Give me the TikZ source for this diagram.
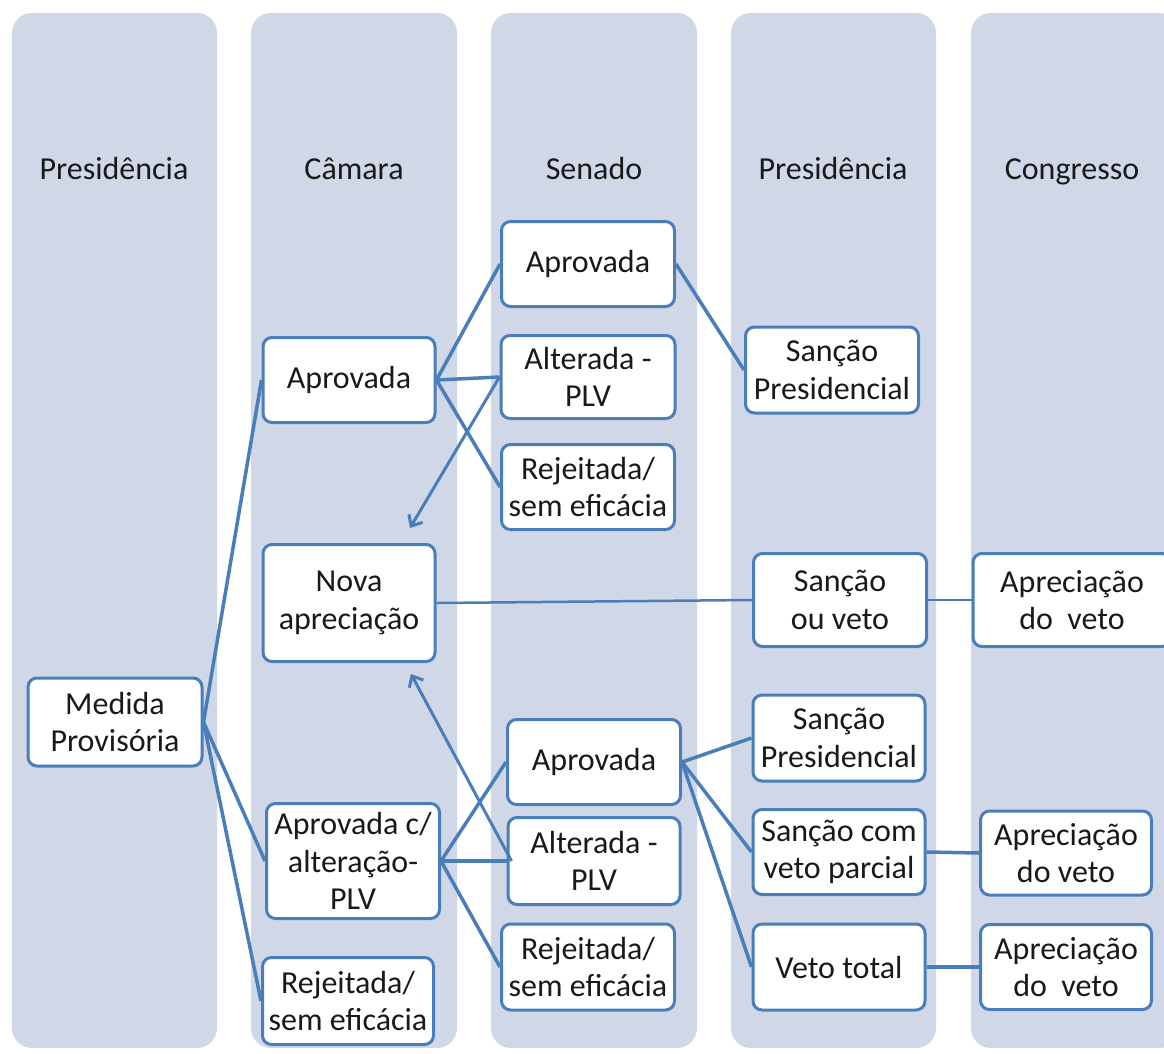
\documentclass[tikz,border=0pt]{standalone}
\usepackage{fontspec}
\setmainfont{Carlito}
\usetikzlibrary{arrows.meta}
\definecolor{lanefill}{HTML}{D0D8E8}
\definecolor{boxblue}{HTML}{4A7EBB}
\tikzset{
  lanebox/.style={fill=lanefill, rounded corners=20pt},
  lanetitle/.style={font=\fontsize{32}{38}\selectfont, text=black!90, anchor=base},
  box/.style={draw=boxblue, line width=3pt, fill=white, rounded corners=9pt, align=center, inner sep=0pt,
    font=\fontsize{32}{37.5}\selectfont, text=black!90},
  conn/.style={draw=boxblue, line width=3.5pt},
  thinconn/.style={draw=boxblue, line width=2.5pt},
  arr/.style={draw=boxblue, line width=3pt, -{Straight Barb[length=9pt,width=16pt,line width=3pt]}}
}
\begin{document}
\begin{tikzpicture}[x=1pt,y=-1pt]
\clip (0,0) rectangle (1164,1054);
\fill[white] (0,0) rectangle (1164,1054);
% lanes
\fill[lanebox] (12,13) rectangle (217,1048);
\fill[lanebox] (251,13) rectangle (457,1048);
\fill[lanebox] (491,13) rectangle (697,1048);
\fill[lanebox] (731,13) rectangle (936,1048);
\fill[lanebox] (971,13) rectangle (1180,1048);
\node[lanetitle] (t1) at (114,179) {Presidência};
\node[lanetitle] (t2) at (354,179) {Câmara};
\node[lanetitle] (t3) at (594,179) {Senado};
\node[lanetitle] (t4) at (833,179) {Presidência};
\node[lanetitle] (t5) at (1072,179) {Congresso};
% nodes
\node[box, minimum width=174pt, minimum height=88pt] (mp) at (115,722) {Medida\\Provisória};
\node[box, minimum width=172pt, minimum height=85pt] (ca) at (349,380) {Aprovada};
\node[box, minimum width=172pt, minimum height=117pt] (na) at (349,603) {Nova\\apreciação};
\node[box, minimum width=173pt, minimum height=115pt] (cc) at (353,861) {Aprovada c/\\alteração-\\PLV};
\node[box, minimum width=171pt, minimum height=87pt] (cr) at (348,1001) {Rejeitada/\\sem eficácia};
\node[box, minimum width=173pt, minimum height=85pt] (sa1) at (588,264) {Aprovada};
\node[box, minimum width=174pt, minimum height=83pt] (sl1) at (588,377) {Alterada -\\PLV};
\node[box, minimum width=173pt, minimum height=85pt] (sr1) at (588,487) {Rejeitada/\\sem eficácia};
\node[box, minimum width=173pt, minimum height=85pt] (sa2) at (594,762) {Aprovada};
\node[box, minimum width=172pt, minimum height=87pt] (sl2) at (594,861) {Alterada -\\PLV};
\node[box, minimum width=173pt, minimum height=86pt] (sr2) at (588,967) {Rejeitada/\\sem eficácia};
\node[box, minimum width=173pt, minimum height=86pt] (ps1) at (832,370) {Sanção\\Presidencial};
\node[box, minimum width=173pt, minimum height=93pt] (pv) at (840,600) {Sanção\\ou veto};
\node[box, minimum width=198pt, minimum height=93pt] (cv0) at (1072,600) {Apreciação\\do\ \ veto};
\node[box, minimum width=172pt, minimum height=86pt] (ps2) at (839,738) {Sanção\\Presidencial};
\node[box, minimum width=172pt, minimum height=85pt] (pp) at (839,852) {Sanção com\\veto parcial};
\node[box, minimum width=172pt, minimum height=86pt] (pt) at (839,967) {Veto total};
\node[box, minimum width=171pt, minimum height=84pt] (cv1) at (1066,853) {Apreciação\\do veto};
\node[box, minimum width=171pt, minimum height=85pt] (cv2) at (1066,967) {Apreciação\\do\ \ veto};
\coordinate (up1) at (410,528);
\coordinate (up2) at (411,674);
% connectors
\draw[conn] (mp.east) -- (ca.west);
\draw[conn] (mp.east) -- (cc.west);
\draw[conn] (mp.east) -- (cr.west);
\draw[conn] (ca.east) -- (sa1.west);
\draw[conn] (ca.east) -- (sl1.west);
\draw[conn] (ca.east) -- (sr1.west);
\draw[arr] (sl1.west) -- (up1);
\draw[thinconn] (na.east) -- (pv.west);
\draw[thinconn] (pv.east) -- (cv0.west);
\draw[conn] (cc.east) -- (sa2.west);
\draw[conn] (cc.east) -- (sl2.west);
\draw[conn] (cc.east) -- (sr2.west);
\draw[arr] ([xshift=5pt]sl2.west) -- (up2);
\draw[conn] (sa1.east) -- (ps1.west);
\draw[conn] (sa2.east) -- (ps2.west);
\draw[conn] (sa2.east) -- (pp.west);
\draw[conn] (sa2.east) -- (pt.west);
\draw[conn] (pp.east) -- (cv1.west);
\draw[conn] (pt.east) -- (cv2.west);
\end{tikzpicture}
\end{document}
